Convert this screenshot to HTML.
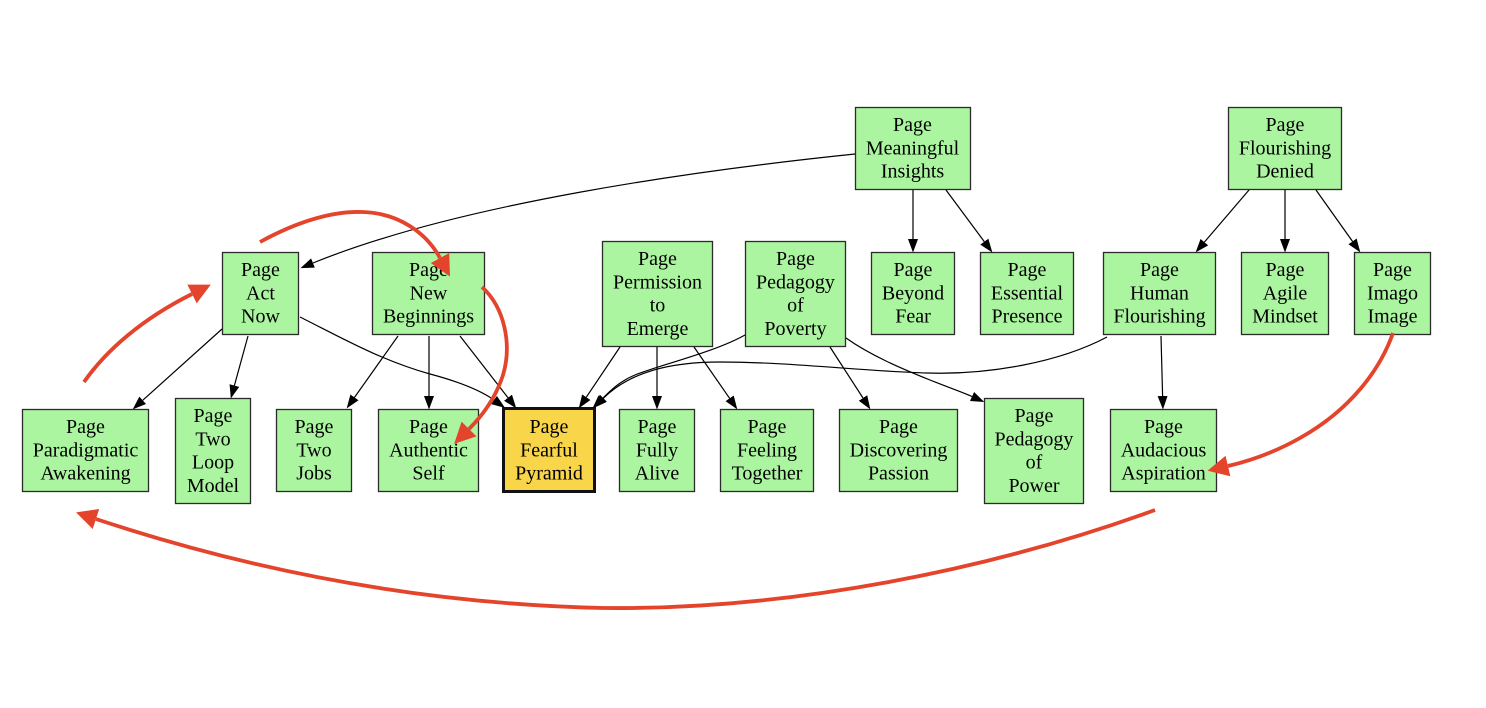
<!DOCTYPE html>
<html><head><meta charset="utf-8"><style>
html,body{margin:0;padding:0;background:#fff;}
svg{display:block;}
text{font-family:"Liberation Serif","Times New Roman",serif;font-size:20px;fill:#000;text-anchor:middle;}
.n{fill:#abf5a0;stroke:#2b2b2b;stroke-width:1.3;}
.e{fill:none;stroke:#000;stroke-width:1.2;}
.r{fill:none;stroke:#e4442b;stroke-width:3.8;}
</style></head><body>
<svg width="1486" height="708" viewBox="0 0 1486 708" xmlns="http://www.w3.org/2000/svg">
<defs>
<marker id="ab" markerWidth="15" markerHeight="12" refX="0" refY="6" orient="auto" markerUnits="userSpaceOnUse"><path d="M0,1 L13.5,6 L0,11 z" fill="#000"/></marker>
<marker id="ar" markerWidth="24" markerHeight="24" refX="0" refY="12" orient="auto" markerUnits="userSpaceOnUse"><path d="M0,1.5 L21,12 L0,22.5 z" fill="#e4442b"/></marker>
</defs>

<!-- nodes -->
<rect class="n" x="855.5" y="107.5" width="115" height="82"/>
<text x="912.5" y="131">Page</text><text x="912.5" y="154.3">Meaningful</text><text x="912.5" y="177.6">Insights</text>

<rect class="n" x="1228.5" y="107.5" width="113" height="82"/>
<text x="1285" y="131">Page</text><text x="1285" y="154.3">Flourishing</text><text x="1285" y="177.6">Denied</text>

<rect class="n" x="222.5" y="252.5" width="76" height="82"/>
<text x="260.5" y="276">Page</text><text x="260.5" y="299.3">Act</text><text x="260.5" y="322.6">Now</text>

<rect class="n" x="372.5" y="252.5" width="112" height="82"/>
<text x="428.5" y="276">Page</text><text x="428.5" y="299.3">New</text><text x="428.5" y="322.6">Beginnings</text>

<rect class="n" x="602.5" y="241.5" width="110" height="105"/>
<text x="657.5" y="265">Page</text><text x="657.5" y="288.3">Permission</text><text x="657.5" y="311.6">to</text><text x="657.5" y="335">Emerge</text>

<rect class="n" x="745.5" y="241.5" width="100" height="105"/>
<text x="795.5" y="265">Page</text><text x="795.5" y="288.3">Pedagogy</text><text x="795.5" y="311.6">of</text><text x="795.5" y="335">Poverty</text>

<rect class="n" x="871.5" y="252.5" width="83" height="82"/>
<text x="913" y="276">Page</text><text x="913" y="299.3">Beyond</text><text x="913" y="322.6">Fear</text>

<rect class="n" x="980.5" y="252.5" width="93" height="82"/>
<text x="1027" y="276">Page</text><text x="1027" y="299.3">Essential</text><text x="1027" y="322.6">Presence</text>

<rect class="n" x="1103.5" y="252.5" width="112" height="82"/>
<text x="1159.5" y="276">Page</text><text x="1159.5" y="299.3">Human</text><text x="1159.5" y="322.6">Flourishing</text>

<rect class="n" x="1241.5" y="252.5" width="87" height="82"/>
<text x="1285" y="276">Page</text><text x="1285" y="299.3">Agile</text><text x="1285" y="322.6">Mindset</text>

<rect class="n" x="1354.5" y="252.5" width="76" height="82"/>
<text x="1392.5" y="276">Page</text><text x="1392.5" y="299.3">Imago</text><text x="1392.5" y="322.6">Image</text>

<rect class="n" x="22.5" y="409.5" width="126" height="82"/>
<text x="85.5" y="433">Page</text><text x="85.5" y="456.3">Paradigmatic</text><text x="85.5" y="479.6">Awakening</text>

<rect class="n" x="175.5" y="398.5" width="75" height="105"/>
<text x="213" y="422">Page</text><text x="213" y="445.3">Two</text><text x="213" y="468.6">Loop</text><text x="213" y="492">Model</text>

<rect class="n" x="276.5" y="409.5" width="75" height="82"/>
<text x="314" y="433">Page</text><text x="314" y="456.3">Two</text><text x="314" y="479.6">Jobs</text>

<rect class="n" x="378.5" y="409.5" width="100" height="82"/>
<text x="428.5" y="433">Page</text><text x="428.5" y="456.3">Authentic</text><text x="428.5" y="479.6">Self</text>

<rect x="503.5" y="408.5" width="91" height="83" fill="#f9d54a" stroke="#111" stroke-width="3"/>
<text x="549" y="433">Page</text><text x="549" y="456.3">Fearful</text><text x="549" y="479.6">Pyramid</text>

<rect class="n" x="619.5" y="409.5" width="75" height="82"/>
<text x="657" y="433">Page</text><text x="657" y="456.3">Fully</text><text x="657" y="479.6">Alive</text>

<rect class="n" x="720.5" y="409.5" width="93" height="82"/>
<text x="767" y="433">Page</text><text x="767" y="456.3">Feeling</text><text x="767" y="479.6">Together</text>

<rect class="n" x="839.5" y="409.5" width="118" height="82"/>
<text x="898.5" y="433">Page</text><text x="898.5" y="456.3">Discovering</text><text x="898.5" y="479.6">Passion</text>

<rect class="n" x="984.5" y="398.5" width="99" height="105"/>
<text x="1034" y="422">Page</text><text x="1034" y="445.3">Pedagogy</text><text x="1034" y="468.6">of</text><text x="1034" y="492">Power</text>

<rect class="n" x="1110.5" y="409.5" width="106" height="82"/>
<text x="1163.5" y="433">Page</text><text x="1163.5" y="456.3">Audacious</text><text x="1163.5" y="479.6">Aspiration</text>

<!-- black edges -->
<path class="e" marker-end="url(#ab)" d="M855,154 C700,170 460,203 313,263"/>
<path class="e" marker-end="url(#ab)" d="M913,190 L913,239"/>
<path class="e" marker-end="url(#ab)" d="M946,190 L984.3,241.6"/>
<path class="e" marker-end="url(#ab)" d="M1249,190 L1204.4,242.1"/>
<path class="e" marker-end="url(#ab)" d="M1285,190 L1285,239"/>
<path class="e" marker-end="url(#ab)" d="M1316,190 L1352.5,241.4"/>
<path class="e" marker-end="url(#ab)" d="M222,329 L142.7,400.3"/>
<path class="e" marker-end="url(#ab)" d="M248,336 L234.4,385.5"/>
<path class="e" marker-end="url(#ab)" d="M300,317 C340,337 380,360 430,374 C460,382 480,390 494,400"/>
<path class="e" marker-end="url(#ab)" d="M398,336 L354.5,397.4"/>
<path class="e" marker-end="url(#ab)" d="M429,336 L429,396"/>
<path class="e" marker-end="url(#ab)" d="M460,336 L508,397.7"/>
<path class="e" marker-end="url(#ab)" d="M620,347 L586.3,397.2"/>
<path class="e" marker-end="url(#ab)" d="M657,347 L657,396"/>
<path class="e" marker-end="url(#ab)" d="M694,347 L729.6,398.3"/>
<path class="e" marker-end="url(#ab)" d="M745,335 C715,352 660,365 635,375 C620,381 610,391 602,399"/>
<path class="e" marker-end="url(#ab)" d="M1107,337 C1060,362 990,375 927,373 C860,371 790,362 720,362 C670,362 630,372 603.4,398.2"/>
<path class="e" marker-end="url(#ab)" d="M830,347 L863,398"/>
<path class="e" marker-end="url(#ab)" d="M846,338 C870,355 900,368 930,380 C950,388 962,392 972,396.5"/>
<path class="e" marker-end="url(#ab)" d="M1161,336 L1162.6,396"/>

<!-- red edges -->
<path class="r" marker-end="url(#ar)" d="M84,382 C105,352 140,320 192,294"/>
<path class="r" marker-end="url(#ar)" d="M260,242 C300,220 335,211 362,212 C400,213 427,234 440,258"/>
<path class="r" marker-end="url(#ar)" d="M482,287 C505,308 512,345 503,375 C495,400 481,417 469,429"/>
<path class="r" marker-end="url(#ar)" d="M1393,333 C1380,370 1350,410 1300,438 C1270,455 1245,462 1228,466"/>
<path class="r" marker-end="url(#ar)" d="M1155,510 C990,570 790,610 604,608 C420,604 250,570 96,519"/>
</svg>
</body></html>
